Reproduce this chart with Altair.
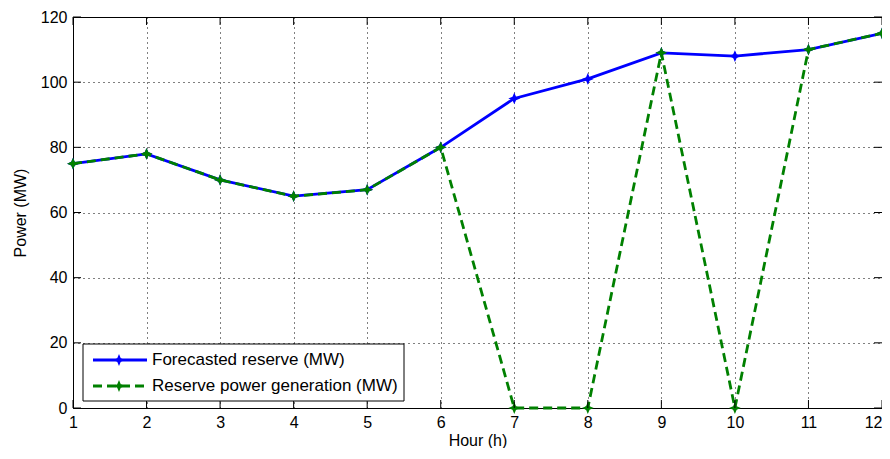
import altair as alt
import pandas as pd

hours = list(range(1, 13))
forecast = [75, 78, 70, 65, 67, 80, 95, 101, 109, 108, 110, 115]
reserve = [75, 78, 70, 65, 67, 80, 0, 0, 109, 0, 110, 115]
series_names = ["Forecasted reserve (MW)", "Reserve power generation (MW)"]
y_ticks = [0, 20, 40, 60, 80, 100, 120]

W, H = 809, 391
FONT = "Liberation Sans"
BLUE = "#0000ff"
GREEN = "#008000"
STAR = "M0,-1L0.3,-0.3L1,0L0.3,0.3L0,1L-0.3,0.3L-1,0L-0.3,-0.3Z"
MSIZE = 140
LW = 2.8

x_enc = alt.X("hour:Q", scale=alt.Scale(domain=[1, 12], nice=False, zero=False),
              axis=alt.Axis(values=hours, format="d", ticks=False, domain=False,
                            grid=True, gridDash=[1, 4], gridColor="black", gridOpacity=1,
                            labelFont=FONT, labelFontSize=16, labelColor="black", labelPadding=6,
                            labelFlush=False, labelOverlap=False,
                            labelAlign={"condition": {"test": "datum.value == 12", "value": "right"}, "value": "center"},
                            title="Hour (h)", titleFont=FONT, titleFontSize=16,
                            titleFontWeight="normal", titleColor="black",
                            titleY=37, titleBaseline="alphabetic"))
y_enc = alt.Y("value:Q", scale=alt.Scale(domain=[0, 120], nice=False),
              axis=alt.Axis(values=y_ticks, ticks=False, domain=False,
                            grid=True, gridDash=[1, 4], gridColor="black", gridOpacity=1,
                            labelFont=FONT, labelFontSize=16, labelColor="black", labelPadding=6,
                            labelFlush=False, labelOverlap=False,
                            title="Power (MW)", titleFont=FONT, titleFontSize=16,
                            titleFontWeight="normal", titleColor="black", titlePadding=12))

df_f = pd.DataFrame({"hour": hours, "value": forecast})
df_r = pd.DataFrame({"hour": hours, "value": reserve})
df_xt = pd.DataFrame({"hour": hours})
df_yt = pd.DataFrame({"value": y_ticks})

blue_line = alt.Chart(df_f).mark_line(color=BLUE, strokeWidth=LW).encode(x=x_enc, y=y_enc)
blue_pts = alt.Chart(df_f).mark_point(shape=STAR, size=MSIZE, filled=True, color=BLUE, opacity=1).encode(x=x_enc, y=y_enc)
green_line = alt.Chart(df_r).mark_line(color=GREEN, strokeWidth=LW, strokeDash=[9, 5]).encode(x=x_enc, y=y_enc)
green_pts = alt.Chart(df_r).mark_point(shape=STAR, size=MSIZE, filled=True, color=GREEN, opacity=1).encode(x=x_enc, y=y_enc)

tick_b = alt.Chart(df_xt).mark_rule(color="black", strokeWidth=1).encode(x=x_enc, y=alt.value(H), y2=alt.value(H - 8))
tick_t = alt.Chart(df_xt).mark_rule(color="black", strokeWidth=1).encode(x=x_enc, y=alt.value(0), y2=alt.value(8))
tick_l = alt.Chart(df_yt).mark_rule(color="black", strokeWidth=1).encode(y=y_enc, x=alt.value(0), x2=alt.value(8))
tick_r = alt.Chart(df_yt).mark_rule(color="black", strokeWidth=1).encode(y=y_enc, x=alt.value(W), x2=alt.value(W - 8))

# legend box (positions relative to the plot's bottom-left)
leg_df = pd.DataFrame({"label": [series_names[0]]})
leg_box = alt.Chart(leg_df).mark_rect(fill="white", stroke="black", strokeWidth=1).encode(
    x=alt.value(10), x2=alt.value(331), y=alt.value(H - 64), y2=alt.value(H - 7))
leg_layers = [leg_box]
for i, (name, col, dash) in enumerate([(series_names[0], BLUE, [1, 0]), (series_names[1], GREEN, [9, 5])]):
    d = pd.DataFrame({"label": [name]})
    yy = H - 48 + 26 * i
    leg_layers.append(alt.Chart(d).mark_rule(color=col, strokeWidth=LW, strokeDash=dash).encode(
        x=alt.value(20), x2=alt.value(74), y=alt.value(yy)))
    leg_layers.append(alt.Chart(d).mark_point(shape=STAR, size=MSIZE, filled=True, color=col, opacity=1).encode(
        x=alt.value(46), y=alt.value(yy)))
    leg_layers.append(alt.Chart(d).mark_text(align="left", baseline="middle", font=FONT, fontSize=17, color="black").encode(
        x=alt.value(79), y=alt.value(yy), text="label:N"))

chart = alt.layer(blue_line, blue_pts, green_line, green_pts, tick_b, tick_t, tick_l, tick_r, *leg_layers).properties(
    width=W, height=H, background="white",
    autosize=alt.AutoSizeParams(type="none"),
    padding={"left": 65, "top": 9, "right": 0, "bottom": 40},
).configure_view(stroke="black", strokeWidth=1)

chart.save("out.html", embed_options={"renderer": "svg", "actions": False})
